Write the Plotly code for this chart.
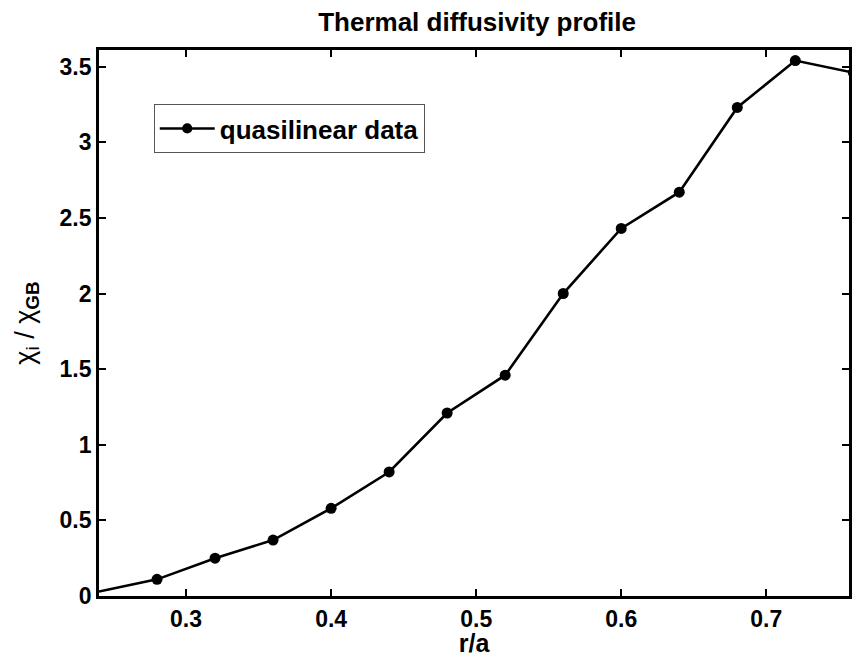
import plotly.graph_objects as go

r_over_a = [0.24, 0.28, 0.32, 0.36, 0.40, 0.44, 0.48, 0.52, 0.56, 0.60, 0.64, 0.68, 0.72, 0.76]
chi_ratio = [0.03, 0.11, 0.25, 0.37, 0.58, 0.82, 1.21, 1.46, 2.00, 2.43, 2.67, 3.23, 3.54, 3.46]
x_ticks = [0.3, 0.4, 0.5, 0.6, 0.7]
y_ticks = [0, 0.5, 1, 1.5, 2, 2.5, 3, 3.5]
y_tick_labels = ["0", "0.5", "1", "1.5", "2", "2.5", "3", "3.5"]

FONT = "Liberation Sans, Arial, Helvetica, sans-serif"
marker_sizes = [0] + [11] * (len(r_over_a) - 1)

fig = go.Figure()
fig.add_trace(go.Scatter(
    x=r_over_a, y=chi_ratio, mode="lines+markers",
    name="<b>quasilinear data</b>",
    line=dict(color="black", width=2.6),
    marker=dict(color="black", size=marker_sizes, symbol="circle", opacity=1,
                line=dict(width=0)),
))

fig.update_layout(
    width=852, height=657,
    margin=dict(l=99, r=0, t=50, b=61),
    paper_bgcolor="white", plot_bgcolor="white",
    font=dict(family=FONT, color="black", size=23),
    title=dict(text="<b>Thermal diffusivity profile</b>", x=0.56, xanchor="center",
               y=1 - 22 / 657, yanchor="middle", yref="container",
               font=dict(size=26, family=FONT, color="black")),
    showlegend=True,
    legend=dict(x=0.073, y=0.901, xanchor="left", yanchor="top",
                bordercolor="#555555", borderwidth=1, bgcolor="white",
                font=dict(size=26, family=FONT, color="black"),
                itemwidth=55, tracegroupgap=0),
)
fig.update_xaxes(
    range=[0.24, 0.757], tickvals=x_ticks, ticktext=[f"<b>{v:.1f}</b>" for v in x_ticks],
    showline=True, linecolor="black", linewidth=2.8, mirror="ticks",
    ticks="inside", ticklen=7, tickwidth=2, tickcolor="black",
    showgrid=False, zeroline=False,
    tickfont=dict(size=23, family=FONT, color="black"),
    title=dict(text="<b>r/a</b>", font=dict(size=25, family=FONT, color="black"), standoff=0),
)
fig.update_yaxes(
    range=[0, 3.61], tickvals=y_ticks, ticktext=[f"<b>{t}</b>" for t in y_tick_labels],
    showline=True, linecolor="black", linewidth=2.8, mirror="ticks",
    ticks="inside", ticklen=7, tickwidth=2, tickcolor="black",
    showgrid=False, zeroline=False,
    tickfont=dict(size=23, family=FONT, color="black"),
    title=dict(text="χ<sub>i</sub> / χ<sub><b>GB</b></sub>", font=dict(size=27, family=FONT, color="black"), standoff=18),
)

fig.write_html("out.html")
